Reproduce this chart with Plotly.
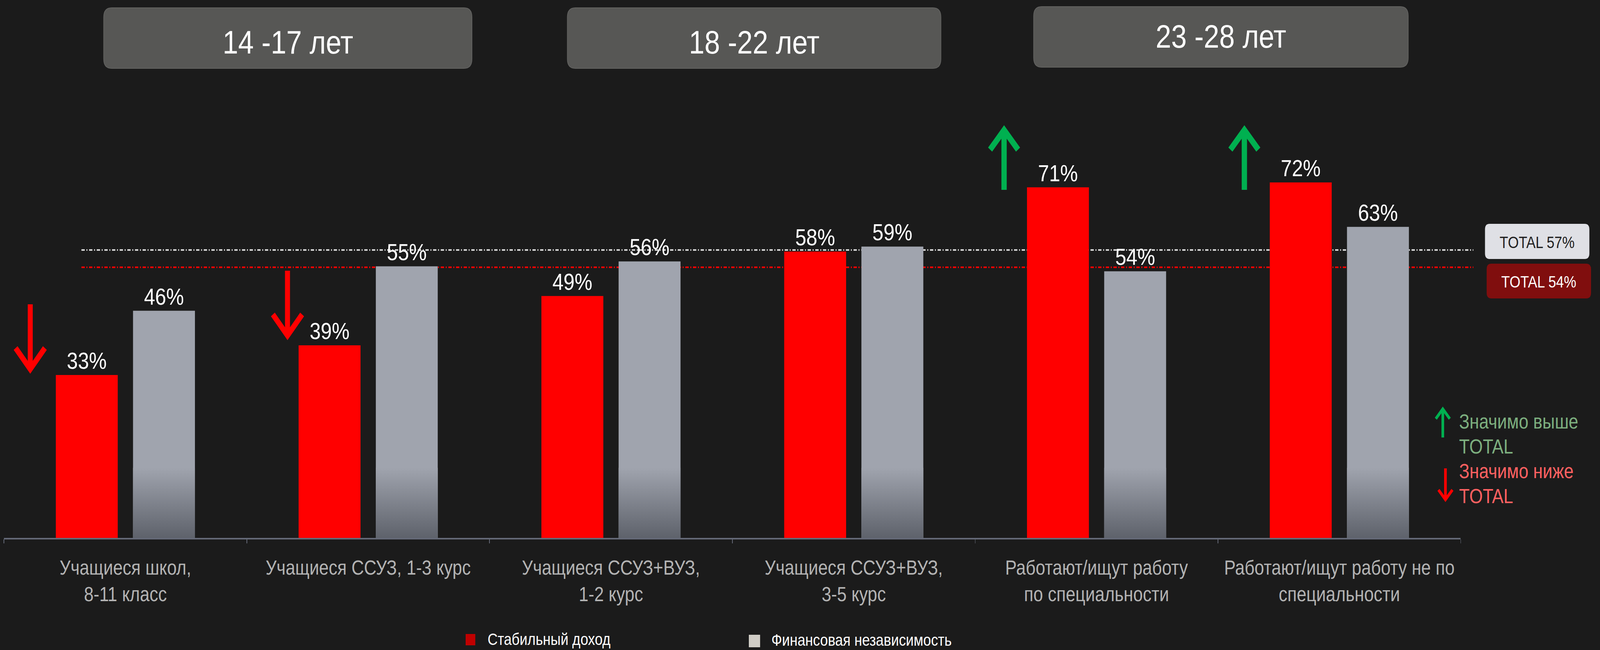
import plotly.graph_objects as go

# ---------------- data ----------------
categories = [
    "Учащиеся школ, 8-11 класс",
    "Учащиеся ССУЗ, 1-3 курс",
    "Учащиеся ССУЗ+ВУЗ, 1-2 курс",
    "Учащиеся ССУЗ+ВУЗ, 3-5 курс",
    "Работают/ищут работу по специальности",
    "Работают/ищут работу не по специальности",
]
tick_labels = [
    "Учащиеся школ,<br>8-11 класс",
    "Учащиеся ССУЗ, 1-3 курс",
    "Учащиеся ССУЗ+ВУЗ,<br>1-2 курс",
    "Учащиеся ССУЗ+ВУЗ,<br>3-5 курс",
    "Работают/ищут работу<br>по специальности",
    "Работают/ищут работу не по<br>специальности",
]
stable_income = [33, 39, 49, 58, 71, 72]          # Стабильный доход
fin_independence = [46, 55, 56, 59, 54, 63]       # Финансовая независимость
series_names = ["Стабильный доход", "Финансовая независимость"]
age_groups = ["14 -17 лет", "18 -22 лет", "23 -28 лет"]
total_labels = ["TOTAL 57%", "TOTAL 54%"]
total_line_levels = [58.3, 54.8]   # where the reference draws the TOTAL lines
sig_down = [0, 1]   # significantly below TOTAL (red arrows)
sig_up = [4, 5]     # significantly above TOTAL (green arrows)

# ---------------- geometry helpers (pixels -> paper) ----------------
W, H = 4814, 1664
L, R, T, B = 12, 419, 113, 287
PW, PH = W - L - R, H - T - B


def px(x):
    return (x - L) / PW


def py(y):
    return (H - B - y) / PH


def rounded_rect(x0, y0, x1, y1, r):
    pts = [
        ("M", x0 + r, y0), ("L", x1 - r, y0), ("Q", x1, y0, x1, y0 + r),
        ("L", x1, y1 - r), ("Q", x1, y1, x1 - r, y1), ("L", x0 + r, y1),
        ("Q", x0, y1, x0, y1 - r), ("L", x0, y0 + r), ("Q", x0, y0, x0 + r, y0),
    ]
    s = ""
    for p in pts:
        coords = p[1:]
        pairs = [f"{px(coords[i]):.6f},{py(coords[i+1]):.6f}" for i in range(0, len(coords), 2)]
        s += p[0] + " ".join(pairs) + " "
    return s + "Z"


def arrow_path(x, y_tail, y_tip, dx, dy):
    d = dy if y_tail > y_tip else -dy
    return (f"M{px(x):.6f},{py(y_tail):.6f} L{px(x):.6f},{py(y_tip):.6f} "
            f"M{px(x - dx):.6f},{py(y_tip + d):.6f} L{px(x):.6f},{py(y_tip):.6f} "
            f"L{px(x + dx):.6f},{py(y_tip + d):.6f}")


BG = "#1b1b1b"
RED = "#ff0000"
GREY = "#a0a4ae"
FONT = "Liberation Sans, Arial, sans-serif"

BAR_W = 0.255
OFF_RED = -0.2865
OFF_GREY = 0.0315
xs = list(range(len(categories)))

fig = go.Figure()

fig.add_trace(go.Bar(
    x=xs, y=stable_income, name=series_names[0], width=BAR_W, offset=OFF_RED,
    marker=dict(color=RED, line=dict(width=0)),
    text=[f"{v}%" for v in stable_income], textposition="outside",
    textfont=dict(color="white", size=60, family=FONT),
    constraintext="none", cliponaxis=False, showlegend=False,
    hovertext=categories,
))
fig.add_trace(go.Bar(
    x=xs, y=fin_independence, name=series_names[1], width=BAR_W, offset=OFF_GREY,
    marker=dict(color=GREY, line=dict(width=0)),
    text=[f"{v}%" for v in fin_independence], textposition="outside",
    textfont=dict(color="white", size=60, family=FONT),
    constraintext="none", cliponaxis=False, showlegend=False,
    hovertext=categories,
))

# gradient at the bottom of the grey bars
GRAD_TOP = 14.2
for i in xs:
    x0 = i + OFF_GREY
    x1 = x0 + BAR_W
    fig.add_trace(go.Scatter(
        x=[x0, x1, x1, x0, x0], y=[0, 0, GRAD_TOP, GRAD_TOP, 0],
        mode="lines", fill="toself", line=dict(width=0),
        fillgradient=dict(type="vertical",
                          colorscale=[[0, "rgb(94,98,107)"], [1, "rgb(160,164,174)"]]),
        hoverinfo="skip", showlegend=False,
    ))

shapes = []
annotations = []

# TOTAL lines
for lvl, col in zip(total_line_levels, ["#d9d9d9", RED]):
    shapes.append(dict(type="line", xref="paper", yref="y", x0=px(245), x1=px(4433),
                       y0=lvl, y1=lvl, layer="below",
                       line=dict(color=col, width=4, dash="10px,5px,3px,5px")))

# age group boxes
age_boxes = [(312, 20, 1420, 175, 108), (1707, 20, 2831, 175, 108), (3110, 17, 4237, 172, 93)]
for (x0, y0, x1, y1, ty), lab in zip(age_boxes, age_groups):
    shapes.append(dict(type="path", xref="paper", yref="paper",
                       path=rounded_rect(x0, y0, x1, y1, 24),
                       fillcolor="#575755", line=dict(color="#626260", width=2)))
    annotations.append(dict(xref="paper", yref="paper", x=px((x0 + x1) / 2), y=py(ty),
                            text=lab, showarrow=False, xanchor="center", yanchor="middle",
                            font=dict(color="white", size=84, family=FONT)))

# TOTAL boxes
tot_boxes = [(4468, 573, 4782, 663, "#dfe0e5", "#1f1f1f"),
             (4473, 675, 4787, 764, "#800e0e", "#ffffff")]
for (x0, y0, x1, y1, fc, tc), lab in zip(tot_boxes, total_labels):
    shapes.append(dict(type="path", xref="paper", yref="paper",
                       path=rounded_rect(x0, y0, x1, y1, 14),
                       fillcolor=fc, line=dict(width=0)))
    annotations.append(dict(xref="paper", yref="paper", x=px((x0 + x1) / 2),
                            y=py((y0 + y1) / 2 + 2), text=lab, showarrow=False,
                            xanchor="center", yanchor="middle",
                            font=dict(color=tc, size=42, family=FONT)))

# significance arrows over bars
down_arrows = {0: (91, 779, 945), 1: (865, 693, 859)}
for i in sig_down:
    x, yt, ytip = down_arrows[i]
    shapes.append(dict(type="path", xref="paper", yref="paper",
                       path=arrow_path(x, yt, ytip, 44, 54),
                       line=dict(color=RED, width=15)))
up_arrows = {4: (3021, 486, 333), 5: (3744, 486, 333)}
for i in sig_up:
    x, yt, ytip = up_arrows[i]
    shapes.append(dict(type="path", xref="paper", yref="paper",
                       path=arrow_path(x, yt, ytip, 42, 50),
                       line=dict(color="#00b050", width=16)))

# significance legend (right)
shapes.append(dict(type="path", xref="paper", yref="paper",
                   path=arrow_path(4341, 1120, 1047, 21, 25),
                   line=dict(color="#00b050", width=8)))
shapes.append(dict(type="path", xref="paper", yref="paper",
                   path=arrow_path(4349, 1199, 1279, 21, 25),
                   line=dict(color=RED, width=8)))
sig_lines = [("Значимо выше", 1079, "#7daf7f"), ("TOTAL", 1143, "#7daf7f"),
             ("Значимо ниже", 1206, "#ff6161"), ("TOTAL", 1270, "#ff6161")]
for txt, yc, col in sig_lines:
    annotations.append(dict(xref="paper", yref="paper", x=px(4388), y=py(yc), text=txt,
                            showarrow=False, xanchor="left", yanchor="middle",
                            font=dict(color=col, size=52, family=FONT)))

# series legend (bottom)
legend_items = [(1401, 1623, 1430, 1652, "#c00000", 1465, 1636),
                (2253, 1625, 2287, 1657, "#d0cdc6", 2319, 1638)]
for (x0, y0, x1, y1, col, tx, ty), name in zip(legend_items, series_names):
    shapes.append(dict(type="rect", xref="paper", yref="paper",
                       x0=px(x0), x1=px(x1), y0=py(y1), y1=py(y0),
                       fillcolor=col, line=dict(width=0)))
    annotations.append(dict(xref="paper", yref="paper", x=px(tx), y=py(ty),
                            text=name, showarrow=False, xanchor="left", yanchor="middle",
                            font=dict(color="white", size=42, family=FONT)))

fig.update_layout(
    width=W, height=H,
    paper_bgcolor=BG, plot_bgcolor=BG,
    margin=dict(l=L, r=R, t=T, b=B, autoexpand=False),
    barmode="overlay",
    font=dict(family=FONT, color="white"),
    shapes=shapes, annotations=annotations,
    showlegend=False,
    xaxis=dict(
        range=[-0.5, len(categories) - 0.5], tickmode="array", tickvals=xs,
        ticktext=tick_labels, ticks="", showgrid=False, zeroline=False,
        showline=True, linecolor="#646977", linewidth=4,
        tickfont=dict(size=52, color="#b3b3b3", family=FONT),
        ticklabelstandoff=28,
        minor=dict(tickmode="array", tickvals=[i - 0.5 for i in range(len(categories) + 1)],
                   ticks="outside", ticklen=10, tickwidth=2, tickcolor="#646977",
                   showgrid=False),
        fixedrange=True,
    ),
    yaxis=dict(range=[0, 100], visible=False, showgrid=False, zeroline=False, fixedrange=True),
)

# The browser caps the window below the 4814x1664 that the figure is laid out
# for; map the whole figure onto the window so every element keeps the same
# relative position and size as in the reference.
post_script = """
var gd = document.getElementById('{plot_id}');
var html = document.documentElement, body = document.body;
[html, body].forEach(function (el) {
  el.style.margin = '0'; el.style.padding = '0'; el.style.overflow = 'hidden';
  el.style.background = '#1b1b1b';
});
var sx = window.innerWidth / 4814, sy = window.innerHeight / 1664;
var wrap = gd.parentElement;
wrap.style.width = window.innerWidth + 'px';
wrap.style.height = window.innerHeight + 'px';
wrap.style.overflow = 'hidden';
wrap.style.margin = '0';
gd.style.transformOrigin = '0 0';
gd.style.transform = 'scale(' + sx + ',' + sy + ')';
"""

fig.write_html("out.html", post_script=post_script, config={"displayModeBar": False})
